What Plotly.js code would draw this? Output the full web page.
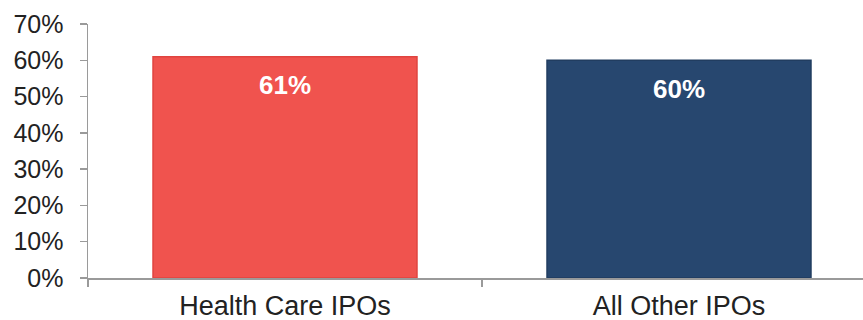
<!DOCTYPE html>
<html>
<head>
<meta charset="utf-8">
<script src="https://cdn.plot.ly/plotly-3.0.1.min.js"></script>
<style>html,body{margin:0;padding:0;background:#fff;}#chart{width:863px;height:320px;}</style>
</head>
<body>
<div id="chart"></div>
<script>
const categories = ["Health Care IPOs", "All Other IPOs"];
const values = [0.61, 0.60];
const barLabels = ["61%", "60%"];
const barColors = ["#F0534E", "#27476F"];
const edgeColors = ["#E0443F", "#213D60"];

const fontFam = "Liberation Sans, Arial, sans-serif";

const trace = {
  type: "bar",
  x: categories,
  y: values,
  width: 0.67,
  marker: { color: barColors, line: { color: edgeColors, width: 1.5 } },
  hoverinfo: "skip"
};

const annotations = categories.map((c, i) => ({
  x: c, y: values[i], xref: "x", yref: "y",
  text: "<b>" + barLabels[i] + "</b>",
  showarrow: false, yshift: -28.5,
  font: { family: fontFam, size: 26, color: "#ffffff" }
}));

const layout = {
  width: 863, height: 320,
  margin: { l: 88, r: 0, t: 24, b: 42 },
  paper_bgcolor: "#ffffff", plot_bgcolor: "#ffffff",
  showlegend: false,
  font: { family: fontFam, size: 20, color: "#222222" },
  xaxis: {
    type: "category",
    range: [-0.5, 1.467],
    tickson: "boundaries",
    ticks: "outside", ticklen: 7, tickwidth: 1.5, tickcolor: "#9A9A9A",
    showline: true, linecolor: "#9A9A9A", linewidth: 1.5,
    showgrid: false, zeroline: false,
    ticklabelstandoff: 3,
    tickfont: { family: fontFam, size: 27, color: "#222222" }
  },
  yaxis: {
    range: [0, 0.7],
    dtick: 0.1, tick0: 0,
    tickformat: ".0%",
    ticks: "outside", ticklen: 7, tickwidth: 1.5, tickcolor: "#9A9A9A",
    showline: true, linecolor: "#9A9A9A", linewidth: 1.5,
    showgrid: false, zeroline: false,
    ticklabelstandoff: 11,
    tickfont: { family: fontFam, size: 25, color: "#222222" }
  },
  annotations: annotations
};

Plotly.newPlot("chart", [trace], layout, { staticPlot: true, displayModeBar: false });
</script>
</body>
</html>
